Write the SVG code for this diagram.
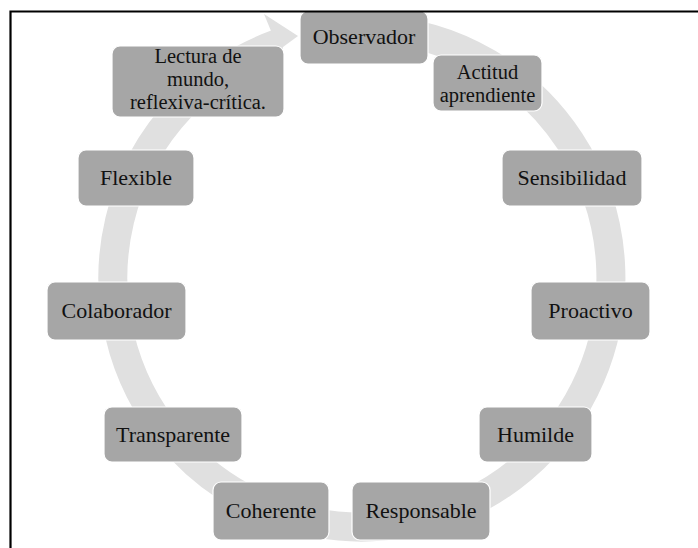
<svg xmlns="http://www.w3.org/2000/svg" width="698" height="548" viewBox="0 0 698 548">
<style>
.box{fill:#a6a6a6;stroke:#ffffff;stroke-width:1.2}
.t{font-family:"Liberation Serif","Times New Roman",serif;font-size:22px;fill:#111;text-anchor:middle}
.s{font-size:20.5px}
.ring{fill:none;stroke:#e0e0e0;stroke-width:29}
</style>
<rect x="0" y="0" width="698" height="548" fill="#fff"/>
<g id="connectors">
<path class="ring" d="M362,29 A249,249 0 1 1 276.8,44"/>
<polygon points="264,14 298,36 283,47 280,62 271,31" fill="#e0e0e0"/>
</g>
<g id="n-observador"><rect class="box" x="300" y="11" width="128" height="53" rx="8"/><text class="t" x="364" y="44">Observador</text></g>
<g id="n-actitud"><rect class="box" x="433" y="55" width="109" height="56" rx="8"/><text class="t s" x="487.5" y="79">Actitud</text><text class="t s" x="487.5" y="102">aprendiente</text></g>
<g id="n-lectura"><rect class="box" x="112" y="46" width="172" height="71" rx="8"/><text class="t s" x="198" y="63">Lectura de</text><text class="t s" x="198" y="86">mundo,</text><text class="t s" x="198" y="109">reflexiva-crítica.</text></g>
<g id="n-flexible"><rect class="box" x="78" y="150" width="116" height="56" rx="8"/><text class="t" x="136" y="185">Flexible</text></g>
<g id="n-sensibilidad"><rect class="box" x="502" y="150" width="140" height="56" rx="8"/><text class="t" x="572" y="185">Sensibilidad</text></g>
<g id="n-colaborador"><rect class="box" x="47" y="282" width="139" height="58" rx="8"/><text class="t" x="116.5" y="318">Colaborador</text></g>
<g id="n-proactivo"><rect class="box" x="531" y="282" width="119" height="58" rx="8"/><text class="t" x="590.5" y="318">Proactivo</text></g>
<g id="n-transparente"><rect class="box" x="104" y="407" width="138" height="55" rx="8"/><text class="t" x="173" y="442">Transparente</text></g>
<g id="n-humilde"><rect class="box" x="479" y="407" width="113" height="55" rx="8"/><text class="t" x="535.5" y="442">Humilde</text></g>
<g id="n-coherente"><rect class="box" x="213" y="482" width="116" height="58" rx="8"/><text class="t" x="271" y="518">Coherente</text></g>
<g id="n-responsable"><rect class="box" x="352" y="482" width="138" height="58" rx="8"/><text class="t" x="421" y="518">Responsable</text></g>
<g id="frame" fill="none" stroke="#000" stroke-width="2.2">
<path d="M10.5,548 V11.5 H698"/>
</g>
</svg>
